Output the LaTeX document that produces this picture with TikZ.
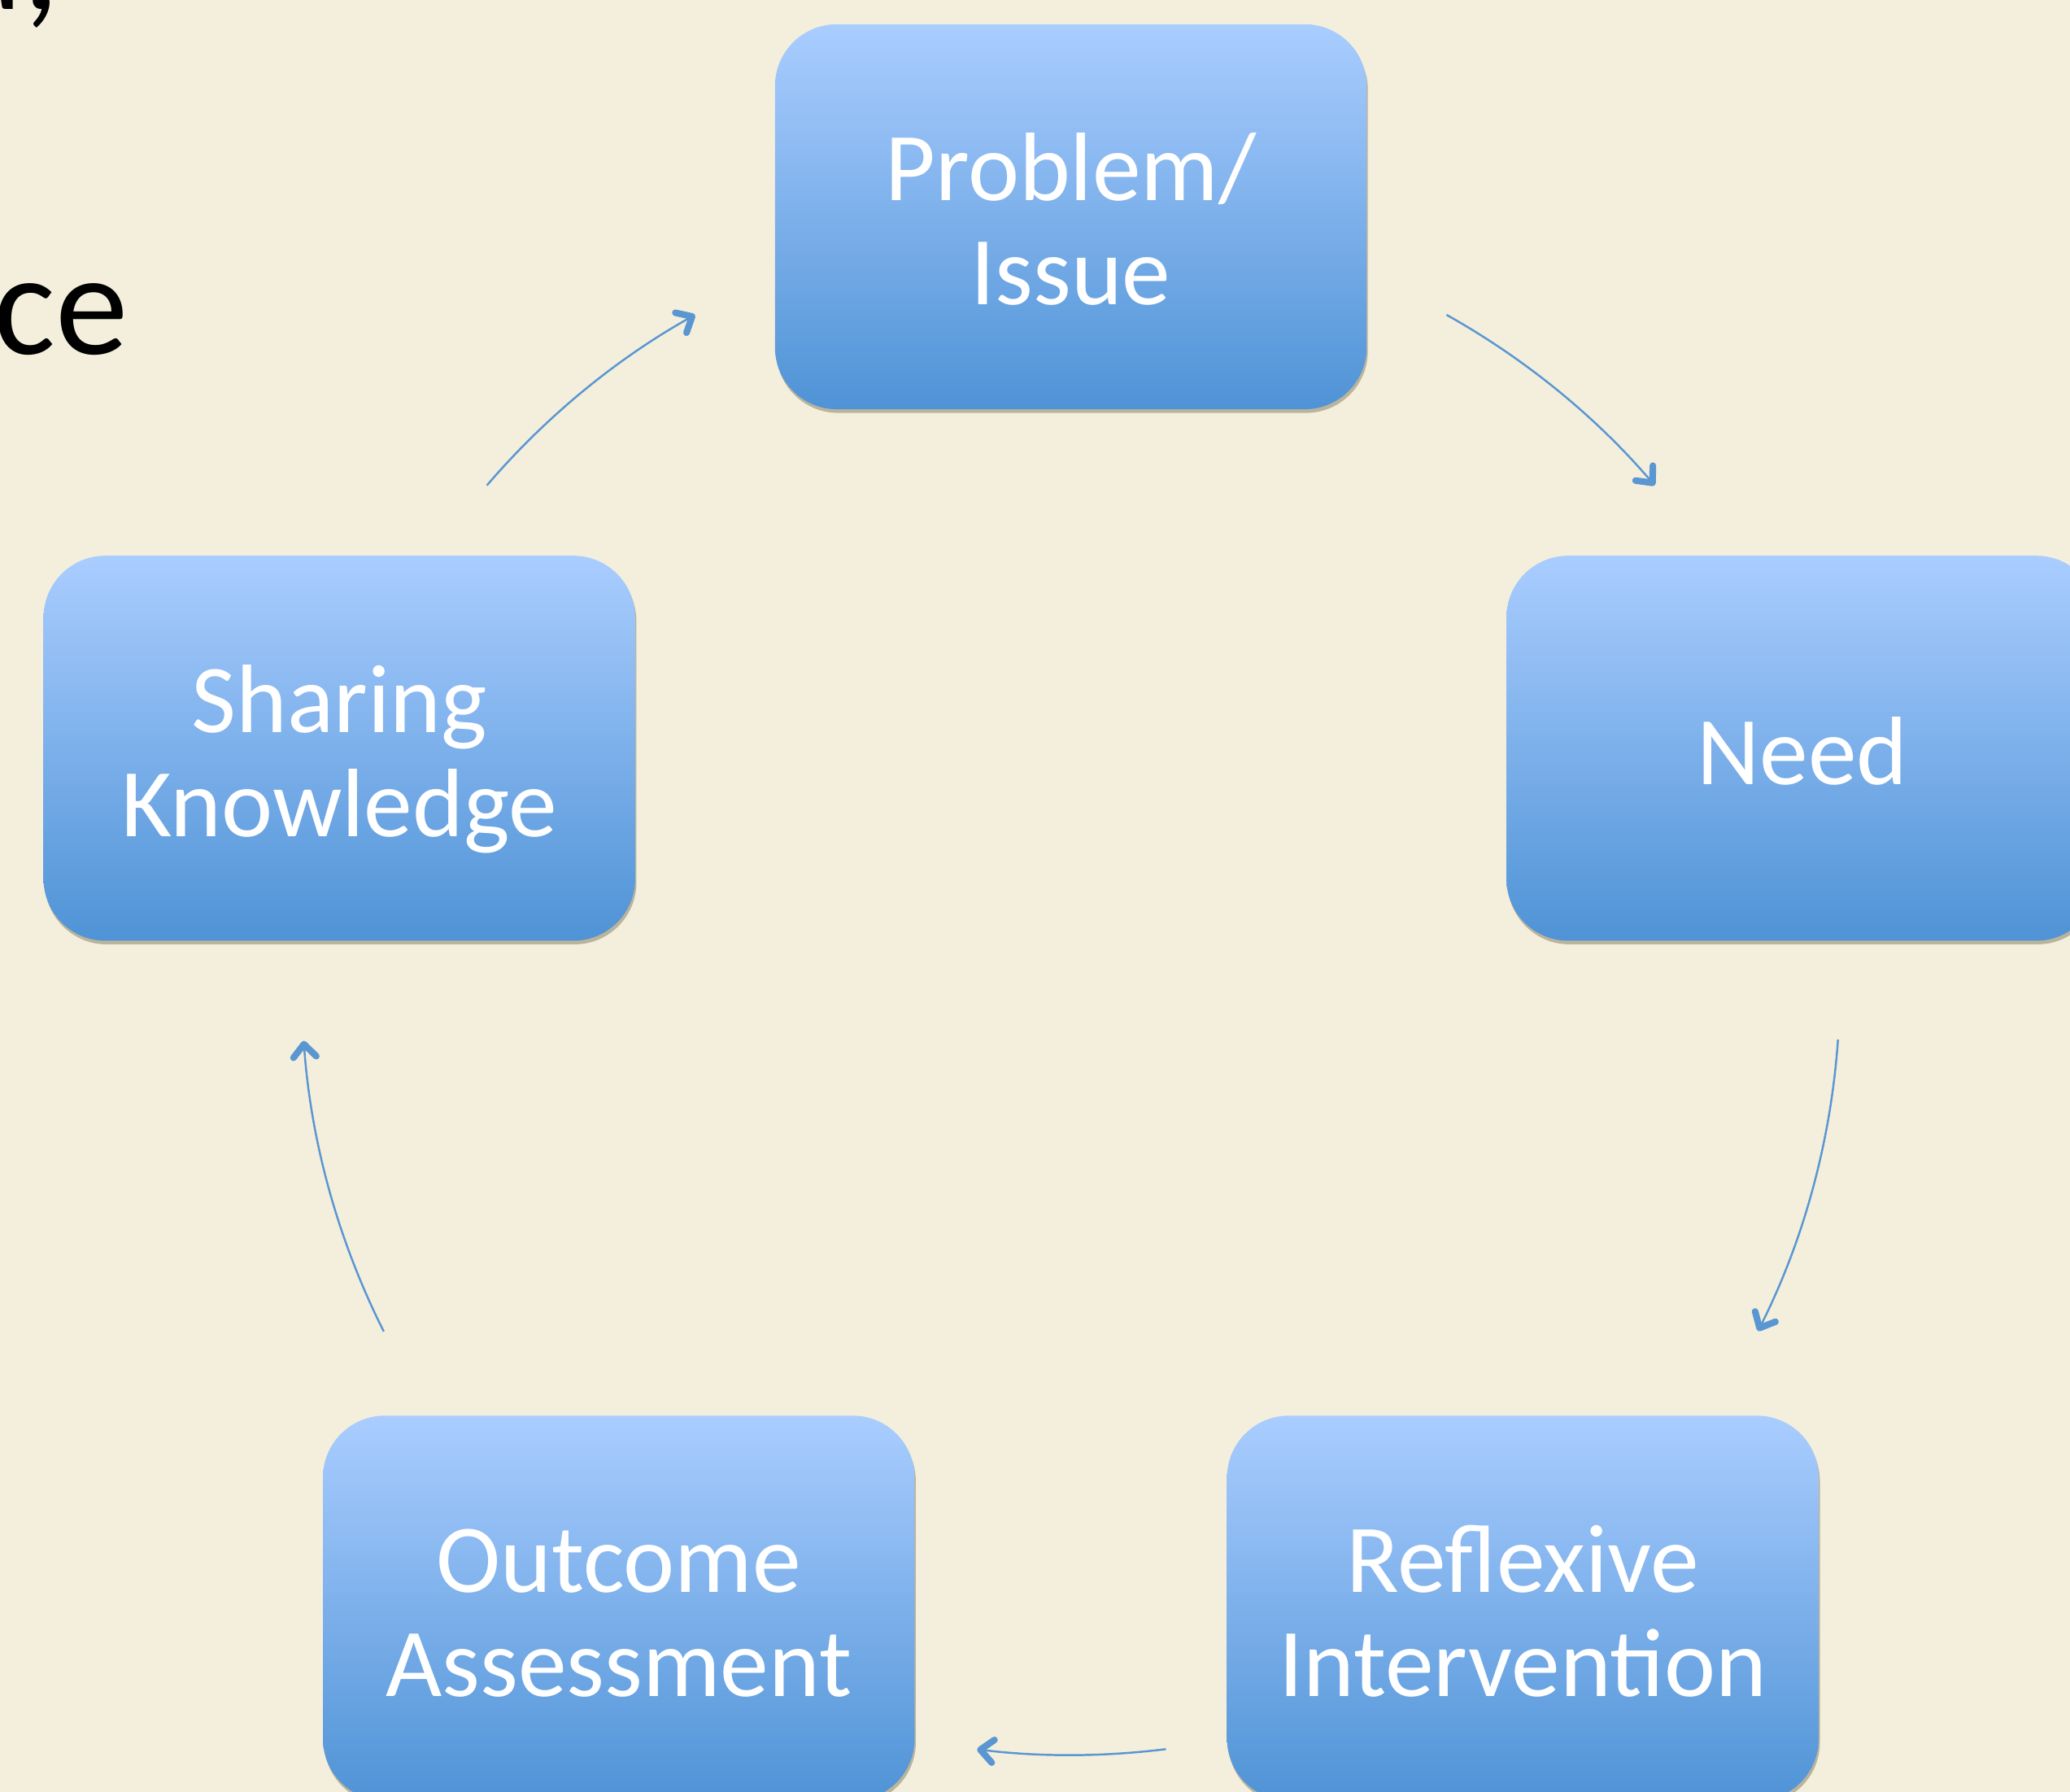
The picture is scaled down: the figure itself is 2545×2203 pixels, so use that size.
\documentclass[tikz,border=0pt]{standalone}
\usepackage{fontspec}
\setmainfont{Carlito}
\usetikzlibrary{calc,arrows.meta,shadows}
\definecolor{bg}{RGB}{243,239,220}
\definecolor{boxtop}{RGB}{170,205,255}
\definecolor{boxbot}{RGB}{79,147,214}
\definecolor{arrowblue}{RGB}{90,150,210}
\definecolor{shadowc}{RGB}{120,110,80}
\newcommand{\bxline}[1]{\rule[-0.11em]{0pt}{0.96em}\smash{#1}}
\begin{document}
\begin{tikzpicture}[x=0.01cm,y=-0.01cm,
  stepbox/.style={rectangle, rounded corners=0.76cm, minimum width=7.27cm, minimum height=4.73cm,
    top color=boxtop, bottom color=boxbot, draw=none, text=white, align=center,
    font=\fontsize{34}{36.4}\selectfont, inner sep=0pt,
    drop shadow={shadow xshift=0.015cm, shadow yshift=-0.045cm, opacity=0.45, fill=shadowc}},
  cyc/.style={draw=arrowblue, line width=0.7pt,
    -{Straight Barb[length=4.5pt,width=8pt,line width=2.3pt,round]}},
  slidetext/.style={font=\fontsize{51}{60}\selectfont, text=black, inner sep=0pt}
]
\useasboundingbox (0,0) rectangle (2545,2203);
\clip (0,0) rectangle (2545,2203);
\fill[bg] (0,0) rectangle (2545,2203);

% fragments of slide text
\node[slidetext, anchor=base west] (frag2) at (-8,435) {ce};
\node[slidetext, anchor=base east] (frag1) at (74,12) {d,};

\coordinate (ctr) at (1316.5,1212);
\node[stepbox] (problem) at ($(ctr)+(90:9.45cm)$) {\bxline{Problem/}\\\bxline{Issue}};
\node[stepbox] (need) at ($(ctr)+(18:9.45cm)$) {\bxline{Need}};
\node[stepbox] (reflex) at ($(ctr)+(-54:9.45cm)$) {\bxline{Reflexive}\\\bxline{Intervention}};
\node[stepbox] (outcome) at ($(ctr)+(-126:9.45cm)$) {\bxline{Outcome}\\\bxline{Assessment}};
\node[stepbox] (sharing) at ($(ctr)+(162:9.45cm)$) {\bxline{Sharing}\\\bxline{Knowledge}};

\coordinate (a1s) at ($(ctr)+(60.75:9.45cm)$);
\coordinate (a2s) at ($(ctr)+(-4.0:9.45cm)$);
\coordinate (a3s) at ($(ctr)+(-82.9:9.45cm)$);
\coordinate (a4s) at ($(ctr)+(206.7:9.45cm)$);
\coordinate (a5s) at ($(ctr)+(139.4:9.45cm)$);

\draw[cyc] (a1s) arc[start angle=60.75, end angle=40.6, radius=9.45cm];
\draw[cyc] (a2s) arc[start angle=-4.0, end angle=-26.66, radius=9.45cm];
\draw[cyc] (a3s) arc[start angle=-82.9, end angle=-97.0, radius=9.45cm];
\draw[cyc] (a4s) arc[start angle=206.7, end angle=184.1, radius=9.45cm];
\draw[cyc] (a5s) arc[start angle=139.4, end angle=119.25, radius=9.45cm];
\end{tikzpicture}
\end{document}
